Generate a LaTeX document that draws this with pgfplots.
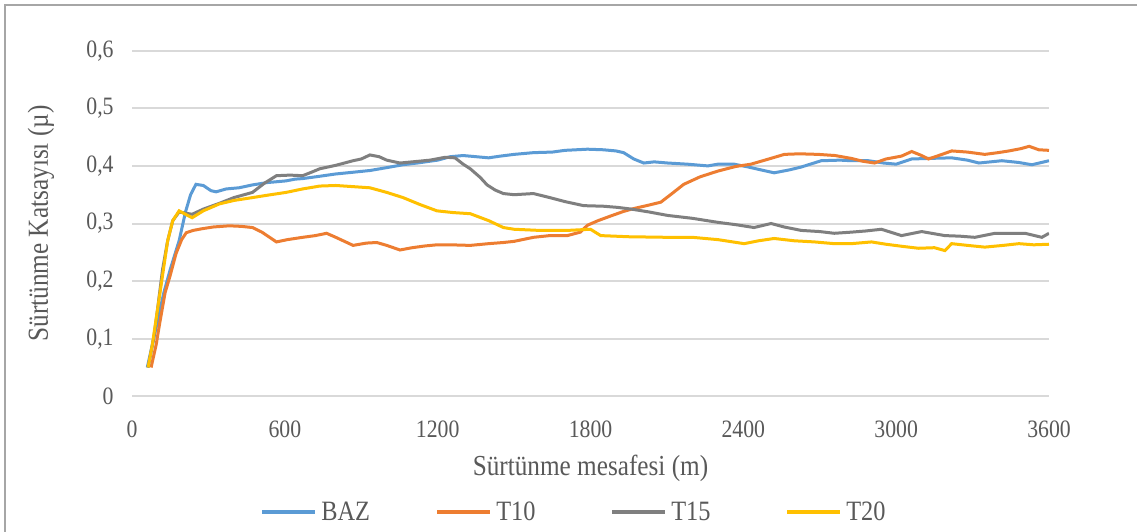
\documentclass[border=0pt]{standalone}
\usepackage{fontspec}
\setmainfont{Liberation Serif}[FakeStretch=0.87]
\usepackage{pgfplots}
\pgfplotsset{compat=1.18}
\definecolor{cbaz}{HTML}{5B9BD5}
\definecolor{ct10}{HTML}{ED7D31}
\definecolor{ct15}{HTML}{7F7F7F}
\definecolor{ct20}{HTML}{FFC000}
\definecolor{txt}{HTML}{595959}
\definecolor{grd}{HTML}{D9D9D9}
\begin{document}
\begin{tikzpicture}
\useasboundingbox (-66bp,-67.85bp) rectangle (502.5bp,198.15bp);
\fill[white] (-66bp,-67.85bp) rectangle (502.5bp,198.15bp);
\draw[gray!70, line width=0.8bp] (-63.5bp,-67.85bp) -- (-63.5bp,195.65bp) -- (502.5bp,195.65bp);
\begin{axis}[
  scale only axis, width=458.5bp, height=172.8bp,
  at={(0,0)}, anchor=south west,
  xmin=0, xmax=3600, ymin=0, ymax=0.6,
  xtick={0,600,...,3600}, ytick={0,0.1,...,0.6},
  axis line style={draw=none}, tick style={draw=none},
  ymajorgrids, grid style={grd, line width=1bp},
  /pgf/number format/assume math mode=true,
  yticklabel={\pgfmathprintnumber[fixed,precision=1,use comma]{\tick}},
  xticklabel={\pgfmathprintnumber[fixed,precision=0,1000 sep={}]{\tick}},
  ticklabel style={font=\fontsize{12.5bp}{14bp}\selectfont, text=txt},
  yticklabel style={anchor=east, inner xsep=0pt, xshift=-9bp},
  xticklabel style={anchor=north, inner ysep=0pt, yshift=-12bp},
  xlabel={Sürtünme mesafesi (m)}, ylabel={Sürtünme Katsayısı (µ)},
  every axis x label/.style={at={(axis description cs:0.5,0)}, anchor=center, yshift=-36bp,
    font=\fontsize{14.5bp}{16bp}\selectfont, text=txt},
  every axis y label/.style={at={(axis description cs:0,0.5)}, xshift=-45.5bp, rotate=90, anchor=center,
    font=\fontsize{14.5bp}{16bp}\selectfont, text=txt},
  legend columns=4,
  legend style={at={(axis description cs:0,0)}, anchor=west, xshift=64bp, yshift=-58bp,
    draw=none, fill=none, inner sep=0pt, font=\fontsize{14bp}{16bp}\selectfont, text=txt,
    /tikz/every even column/.append style={column sep=31bp}},
  legend image code/.code={\draw[#1, line width=2bp] (0bp,0bp) -- (26.5bp,0bp);},
  every axis plot/.append style={line width=1.5bp},
]
\addplot[cbaz] coordinates {
(60,0.05)(80,0.09)(100,0.13)(125,0.18)(150,0.22)(185,0.27)(210,0.32)(230,0.35)(251,0.368)(280,0.366)(310,0.357)(330,0.355)(370,0.36)(420,0.362)(473,0.367)(530,0.371)(605,0.374)(640,0.377)(670,0.378)(737,0.382)(800,0.386)(868,0.389)(934,0.392)(1000,0.397)(1064,0.402)(1120,0.405)(1200,0.41)(1250,0.416)(1300,0.418)(1350,0.416)(1400,0.414)(1446,0.417)(1500,0.42)(1576,0.423)(1650,0.424)(1700,0.427)(1788,0.429)(1850,0.428)(1900,0.426)(1930,0.423)(1970,0.412)(2009,0.405)(2050,0.407)(2103,0.405)(2180,0.403)(2261,0.400)(2300,0.403)(2364,0.403)(2420,0.398)(2480,0.392)(2521,0.388)(2580,0.393)(2627,0.398)(2706,0.409)(2780,0.41)(2824,0.409)(2891,0.409)(2950,0.405)(3000,0.403)(3061,0.412)(3130,0.413)(3218,0.414)(3280,0.41)(3325,0.405)(3415,0.409)(3480,0.406)(3533,0.402)(3600,0.409)
};
\addlegendentry{\makebox[24bp][l]{BAZ}}
\addplot[ct10] coordinates {
(75,0.05)(95,0.09)(110,0.13)(130,0.18)(150,0.21)(173,0.248)(195,0.272)(213,0.284)(240,0.288)(276,0.291)(320,0.294)(382,0.296)(430,0.295)(473,0.293)(510,0.285)(567,0.268)(610,0.272)(670,0.276)(720,0.279)(764,0.283)(800,0.276)(868,0.262)(920,0.266)(961,0.267)(1000,0.262)(1052,0.254)(1100,0.258)(1150,0.261)(1197,0.263)(1250,0.263)(1328,0.262)(1400,0.265)(1458,0.267)(1500,0.269)(1576,0.276)(1640,0.279)(1709,0.279)(1760,0.285)(1788,0.297)(1830,0.305)(1879,0.313)(1930,0.321)(1970,0.326)(2020,0.331)(2076,0.337)(2120,0.352)(2166,0.368)(2230,0.381)(2300,0.391)(2370,0.399)(2430,0.403)(2500,0.412)(2561,0.42)(2620,0.421)(2694,0.42)(2760,0.418)(2824,0.413)(2870,0.408)(2915,0.405)(2960,0.412)(3021,0.417)(3061,0.425)(3100,0.418)(3127,0.412)(3180,0.42)(3218,0.426)(3280,0.424)(3348,0.42)(3400,0.423)(3443,0.426)(3490,0.43)(3522,0.434)(3560,0.428)(3600,0.427)
};
\addlegendentry{\makebox[24bp][l]{T10}}
\addplot[ct15] coordinates {
(63,0.05)(85,0.10)(100,0.15)(120,0.22)(140,0.27)(160,0.305)(185,0.32)(210,0.318)(236,0.316)(280,0.325)(343,0.335)(400,0.345)(473,0.354)(520,0.37)(567,0.383)(620,0.384)(670,0.383)(710,0.39)(737,0.395)(800,0.401)(868,0.409)(900,0.412)(934,0.419)(970,0.416)(1000,0.41)(1052,0.405)(1100,0.407)(1170,0.41)(1230,0.415)(1268,0.414)(1300,0.403)(1328,0.395)(1367,0.38)(1394,0.367)(1426,0.358)(1458,0.352)(1500,0.35)(1576,0.352)(1640,0.345)(1700,0.338)(1773,0.331)(1850,0.33)(1906,0.328)(1960,0.325)(2030,0.32)(2103,0.314)(2200,0.309)(2300,0.302)(2370,0.298)(2442,0.293)(2509,0.3)(2560,0.294)(2627,0.288)(2700,0.286)(2757,0.283)(2824,0.285)(2880,0.287)(2942,0.29)(3021,0.279)(3100,0.286)(3191,0.279)(3250,0.278)(3309,0.276)(3388,0.283)(3450,0.283)(3506,0.283)(3572,0.276)(3600,0.283)
};
\addlegendentry{\makebox[24bp][l]{T15}}
\addplot[ct20] coordinates {
(63,0.05)(80,0.09)(100,0.15)(120,0.21)(140,0.27)(160,0.305)(185,0.322)(210,0.316)(236,0.31)(280,0.322)(343,0.334)(400,0.34)(473,0.345)(530,0.349)(605,0.354)(670,0.36)(737,0.365)(800,0.366)(868,0.364)(934,0.362)(1000,0.354)(1064,0.345)(1130,0.333)(1197,0.322)(1260,0.319)(1328,0.317)(1400,0.305)(1458,0.293)(1500,0.29)(1600,0.288)(1709,0.288)(1800,0.29)(1840,0.279)(1950,0.277)(2103,0.276)(2200,0.276)(2300,0.272)(2403,0.265)(2460,0.27)(2521,0.274)(2600,0.27)(2680,0.268)(2757,0.265)(2824,0.265)(2903,0.268)(2960,0.264)(3030,0.26)(3088,0.257)(3150,0.258)(3191,0.253)(3218,0.265)(3280,0.262)(3348,0.259)(3420,0.262)(3482,0.265)(3540,0.263)(3600,0.264)
};
\addlegendentry{\makebox[24bp][l]{T20}}
\end{axis}
\end{tikzpicture}
\end{document}
